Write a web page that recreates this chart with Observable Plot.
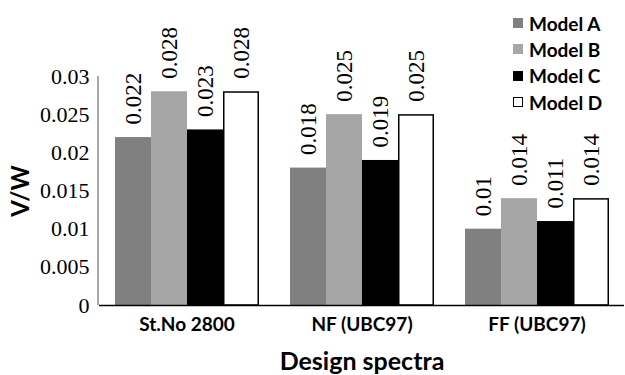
<!DOCTYPE html>
<html>
<head>
<meta charset="utf-8">
<script src="https://cdn.jsdelivr.net/npm/d3@7"></script>
<script src="https://cdn.jsdelivr.net/npm/@observablehq/plot@0.6"></script>
<style>
  html, body { margin: 0; padding: 0; background: #fff; }
  #wrap { position: relative; width: 625px; height: 375px; overflow: hidden; }
  #legend { position: absolute; left: 513px; top: 10px; font-family: Lato, sans-serif; font-weight: bold; font-size: 19px; color: #000; }
  #legend .row { display: flex; align-items: center; height: 26.3px; }
  #legend .sw { width: 10px; height: 10px; margin-right: 6px; box-sizing: border-box; }
  g[aria-label="fx-axis label"] text { font-size: 25px; font-weight: bold; font-family: Lato, sans-serif; }
  g[aria-label="y-axis label"] text { font-size: 24px; font-weight: bold; font-family: Lato, sans-serif; }
</style>
</head>
<body>
<div id="wrap"></div>
<script>
const categories = ["St.No 2800", "NF (UBC97)", "FF (UBC97)"];
const models = ["Model A", "Model B", "Model C", "Model D"];
const modelA = [0.022, 0.018, 0.01];
const modelB = [0.028, 0.025, 0.014];
const modelC = [0.023, 0.019, 0.011];
const modelD = [0.028, 0.025, 0.014];
const colors = ["#808080", "#a6a6a6", "#000000", "#ffffff"];
const yTicks = [0, 0.005, 0.01, 0.015, 0.02, 0.025, 0.03];

const series = [modelA, modelB, modelC, modelD];
const data = [];
categories.forEach((c, i) => models.forEach((m, j) => data.push({cat: c, model: m, value: series[j][i]})));

const serif = "'Liberation Serif', 'DejaVu Serif', serif";

const chart = Plot.plot({
  width: 625,
  height: 375,
  marginLeft: 98,
  marginRight: 0,
  marginTop: 76,
  marginBottom: 70,
  style: {color: "#000", background: "#fff"},
  fx: {domain: categories, padding: 0},
  x: {domain: models, axis: null, paddingInner: 0, paddingOuter: 0.374},
  y: {domain: [0, 0.03]},
  color: {domain: models, range: colors},
  marks: [
    Plot.barY(data, {fx: "cat", x: "model", y: "value", fill: "model"}),
    Plot.barY(data.filter(d => d.model === "Model D"), {fx: "cat", x: "model", y: "value", fill: "#fff", stroke: "#000", strokeWidth: 1.5, insetLeft: 0.75, insetRight: 0.75, insetTop: 0.75}),
    Plot.text(data, {fx: "cat", x: "model", y: "value", text: d => String(d.value), rotate: -90, textAnchor: "start", dy: -13, fontSize: 23, fontFamily: serif, fill: "#000"}),
    Plot.ruleY([0], {stroke: "#000", strokeWidth: 1.5}),
    Plot.axisY({ticks: yTicks, tickSize: 0, tickPadding: 10, fontSize: 22, fontFamily: serif, tickFormat: d => String(d), label: "V/W", labelAnchor: "center", labelOffset: 88, labelArrow: "none"}),
    Plot.axisFx({anchor: "bottom", tickSize: 0, tickPadding: 12, fontSize: 19, fontWeight: "bold", fontFamily: "Lato, sans-serif", label: "Design spectra", labelAnchor: "center", labelOffset: 64})
  ]
});

// y axis line drawn from the plot's own scale
const y = chart.scale("y");
d3.select(chart).append("line")
  .attr("x1", 98).attr("x2", 98)
  .attr("y1", y.apply(0)).attr("y2", y.apply(0.03))
  .attr("stroke", "#555").attr("stroke-width", 1);

const wrap = document.getElementById("wrap");
wrap.appendChild(chart);

const legend = document.createElement("div");
legend.id = "legend";
models.forEach((m, j) => {
  const row = document.createElement("div");
  row.className = "row";
  const sw = document.createElement("div");
  sw.className = "sw";
  sw.style.background = colors[j];
  if (colors[j] === "#ffffff") sw.style.border = "1px solid #000";
  const t = document.createElement("span");
  t.textContent = m;
  row.appendChild(sw);
  row.appendChild(t);
  legend.appendChild(row);
});
wrap.appendChild(legend);
</script>
</body>
</html>
